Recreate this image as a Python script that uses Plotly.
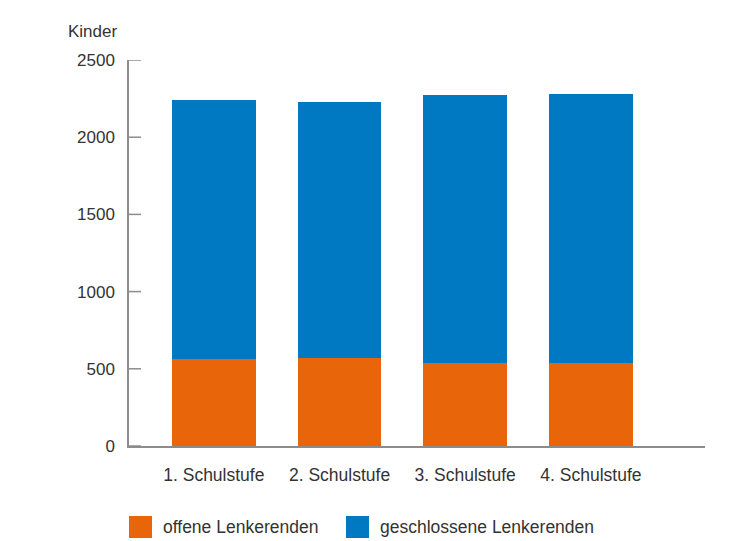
import plotly.graph_objects as go

# Children per school level by handlebar-end type
stufen = ["1. Schulstufe", "2. Schulstufe", "3. Schulstufe", "4. Schulstufe"]
offene = [563, 569, 537, 539]
geschlossene = [1675, 1661, 1738, 1740]
y_ticks = [0, 500, 1000, 1500, 2000, 2500]

series_names = ["offene Lenkerenden", "geschlossene Lenkerenden"]
colors = ["#E8650A", "#0079C2"]

FONT = "Liberation Sans, Arial, sans-serif"
TEXT = "#333333"
AXIS = "#8C8C8C"

W, H = 744, 541
L, R, T, B = 129, 39, 60, 95
pw, ph = W - L - R, H - T - B
TICK_LEN = 12


def px_x(x):
    return (x - L) / pw


def px_y(y):
    return (H - B - y) / ph


fig = go.Figure()
for name, vals, col in zip(series_names, [offene, geschlossene], colors):
    fig.add_trace(go.Bar(x=stufen, y=vals, name=name, marker=dict(color=col, line=dict(width=0)),
                         width=0.668, showlegend=False))

fig.update_layout(
    barmode="stack",
    width=W, height=H,
    margin=dict(l=L, r=R, t=T, b=B),
    paper_bgcolor="white", plot_bgcolor="white",
    font=dict(family=FONT, size=17, color=TEXT),
    xaxis=dict(range=[-0.675, 3.908], showline=True, linecolor=AXIS, linewidth=1.5,
               ticks="", showgrid=False, zeroline=False, ticklabelstandoff=12,
               tickfont=dict(size=17.5)),
    yaxis=dict(range=[0, 2500], tickvals=y_ticks, showline=True, linecolor=AXIS, linewidth=1.5,
               ticks="", showgrid=False, zeroline=False, ticklabelstandoff=9,
               tickfont=dict(size=17)),
)

# short tick marks pointing into the plot from the y axis line
for v in y_ticks:
    fig.add_shape(type="line", xref="paper", yref="y", x0=0, x1=TICK_LEN / pw, y0=v, y1=v,
                  line=dict(color=AXIS, width=1.5), layer="above")

# axis caption
fig.add_annotation(text="Kinder", xref="paper", yref="paper", x=px_x(66), y=px_y(32),
                   xanchor="left", yanchor="middle", showarrow=False, font=dict(size=17, color=TEXT))

# legend drawn below the axis
legend_items = [(129, 161), (346, 378)]
for (sx, tx), name, col in zip(legend_items, series_names, colors):
    fig.add_shape(type="rect", xref="paper", yref="paper",
                  x0=px_x(sx), x1=px_x(sx + 23), y0=px_y(516), y1=px_y(538),
                  fillcolor=col, line=dict(width=0))
    fig.add_annotation(text=name, xref="paper", yref="paper", x=px_x(tx), y=px_y(527),
                       xanchor="left", yanchor="middle", showarrow=False,
                       font=dict(size=17.5, color=TEXT))

fig.write_html("out.html")
